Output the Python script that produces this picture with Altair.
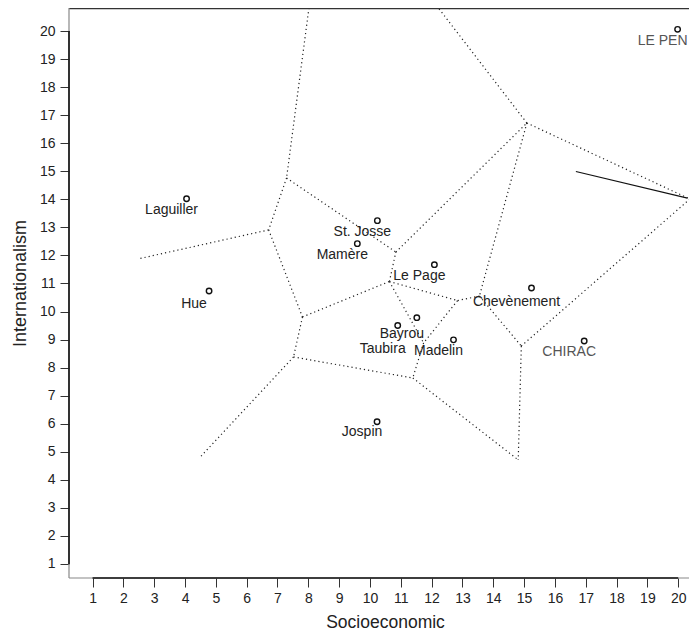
import altair as alt
import pandas as pd

# ---- data -------------------------------------------------------------
names = ["LE PEN", "Laguiller", "Hue", "St. Josse", "Mamère", "Le Page",
         "Chevènement", "Bayrou", "Taubira", "Madelin", "CHIRAC", "Jospin"]
socio = [19.98, 4.05, 4.78, 10.24, 9.59, 12.09, 15.24, 11.52, 10.90, 12.71, 16.95, 10.23]
intl = [20.06, 14.02, 10.73, 13.24, 12.42, 11.67, 10.84, 9.78, 9.50, 8.99, 8.95, 6.07]

# dotted cell boundaries (start / end of each segment)
seg_x1 = [8.02, 7.294, 7.294, 6.713, 6.713, 7.810, 10.63, 10.84, 15.09, 15.09, 20.38, 15.09,
          13.55, 13.55, 10.63, 10.63, 12.84, 11.74, 7.810, 7.520, 7.520, 11.39, 14.91]
seg_y1 = [20.82, 14.76, 14.76, 12.91, 12.91, 9.806, 11.07, 12.12, 16.72, 16.72, 14.01, 16.72,
          10.55, 10.55, 11.07, 11.07, 10.39, 8.88, 9.806, 8.379, 8.379, 7.63, 8.77]
seg_x2 = [7.294, 10.84, 6.713, 2.459, 7.810, 10.63, 10.84, 15.09, 12.22, 20.38, 14.91, 13.55,
          12.84, 14.91, 12.84, 11.74, 11.74, 11.39, 7.520, 11.39, 4.458, 14.81, 14.81]
seg_y2 = [14.76, 12.12, 12.91, 11.87, 9.806, 11.07, 12.12, 16.72, 20.82, 14.01, 8.77, 10.55,
          10.39, 8.77, 10.39, 8.88, 8.88, 7.63, 8.379, 7.63, 4.77, 4.71, 4.71]

# solid segment
solid_x1, solid_y1, solid_x2, solid_y2 = [16.68], [14.99], [20.30], [14.04]

ticks = list(range(1, 21))

# ---- styling ------------------------------------------------------------
W, H = 620, 570
FONT = "Liberation Sans"
label_dy = {"Bayrou": 16, "Taubira": 23, "Chevènement": 14, "Hue": 13, "Jospin": 10}
DEFAULT_DY = 11.5

pts = pd.DataFrame({"name": names, "socio": socio, "intl": intl})
segs_df = pd.DataFrame({"x1": seg_x1, "y1": seg_y1, "x2": seg_x2, "y2": seg_y2})
solid_df = pd.DataFrame({"x1": solid_x1, "y1": solid_y1, "x2": solid_x2, "y2": solid_y2})
one = pd.DataFrame({"a": [0]})

xs = alt.Scale(domain=[0.236, 20.35], nice=False, zero=False)
ys = alt.Scale(domain=[0.50, 20.82], nice=False, zero=False)

x_axis = alt.Axis(values=ticks, tickCount=20, title="Socioeconomic", domain=False, grid=False,
                  tickSize=9, tickColor="#333", tickWidth=1,
                  labelColor="#222", labelFont=FONT, labelFontSize=14, labelPadding=4,
                  labelOverlap=False, labelFlush=False,
                  titleFont=FONT, titleFontSize=17.5, titleFontWeight="normal",
                  titleColor="#222", titleX=316, titleY=49,
                  titleBaseline="alphabetic", titleAlign="center")
y_axis = alt.Axis(values=ticks, tickCount=20, title="Internationalism", domain=False, grid=False,
                  tickSize=9, tickColor="#333", tickWidth=1,
                  labelColor="#222", labelFont=FONT, labelFontSize=14, labelPadding=5,
                  labelOverlap=False, labelFlush=False,
                  titleFont=FONT, titleFontSize=18, titleFontWeight="normal",
                  titleColor="#222", titleX=-44, titleY=275, titleAngle=270,
                  titleBaseline="alphabetic", titleAlign="center")

segs = alt.Chart(segs_df).mark_rule(strokeDash=[1.2, 3], strokeWidth=1.2,
                                    color="#222", clip=True).encode(
    x=alt.X("x1:Q", scale=xs, axis=x_axis),
    y=alt.Y("y1:Q", scale=ys, axis=y_axis),
    x2="x2:Q", y2="y2:Q")

solid = alt.Chart(solid_df).mark_rule(strokeWidth=1.2, color="#111", clip=True).encode(
    x=alt.X("x1:Q", scale=xs, axis=x_axis), y=alt.Y("y1:Q", scale=ys, axis=y_axis),
    x2="x2:Q", y2="y2:Q")

points = alt.Chart(pts).mark_point(shape="circle", filled=False, size=30,
                                   strokeWidth=1.4, color="#111", opacity=1).encode(
    x=alt.X("socio:Q", scale=xs, axis=x_axis), y=alt.Y("intl:Q", scale=ys, axis=y_axis))

label_color = alt.condition(
    alt.FieldOneOfPredicate(field="name", oneOf=["CHIRAC", "LE PEN"]),
    alt.value("#555"), alt.value("#222"))

label_layers = []
groups = {}
for n in names:
    groups.setdefault(label_dy.get(n, DEFAULT_DY), []).append(n)
for dy, members in groups.items():
    label_layers.append(
        alt.Chart(pts).transform_filter(
            alt.FieldOneOfPredicate(field="name", oneOf=members)
        ).mark_text(dx=-15, dy=dy, align="center", baseline="middle",
                    font=FONT, fontSize=14).encode(
            x=alt.X("socio:Q", scale=xs, axis=x_axis),
            y=alt.Y("intl:Q", scale=ys, axis=y_axis),
            text="name:N", color=label_color)
    )

top_line = alt.Chart(one).mark_rule(color="#333", strokeWidth=1.2).encode(
    x=alt.value(0), x2=alt.value(W), y=alt.value(0.6))
left_box = alt.Chart(one).mark_rule(color="#888", strokeWidth=1.2).encode(
    x=alt.value(0), y=alt.value(0), y2=alt.value(H))
bottom_box = alt.Chart(one).mark_rule(color="#888", strokeWidth=1.2).encode(
    y=alt.value(H), x=alt.value(0), x2=alt.value(W))
left_axis = alt.Chart(one).mark_rule(color="#111", strokeWidth=1.6).encode(
    x=alt.value(0),
    y=alt.Y(datum=1, type="quantitative", scale=ys, axis=y_axis), y2=alt.Y2(datum=20))
bottom_axis = alt.Chart(one).mark_rule(color="#111", strokeWidth=1.6).encode(
    y=alt.value(H),
    x=alt.X(datum=1, type="quantitative", scale=xs, axis=x_axis), x2=alt.X2(datum=20))

chart = alt.layer(
    segs, solid, top_line, left_box, bottom_box, left_axis, bottom_axis,
    points, *label_layers
).properties(
    width=W, height=H,
    padding={"left": 61, "top": 0, "right": 0, "bottom": 53},
    autosize=alt.AutoSizeParams(type="none"),
).configure_view(stroke=None)

chart.save("out.html", embed_options={"renderer": "svg", "actions": False})
